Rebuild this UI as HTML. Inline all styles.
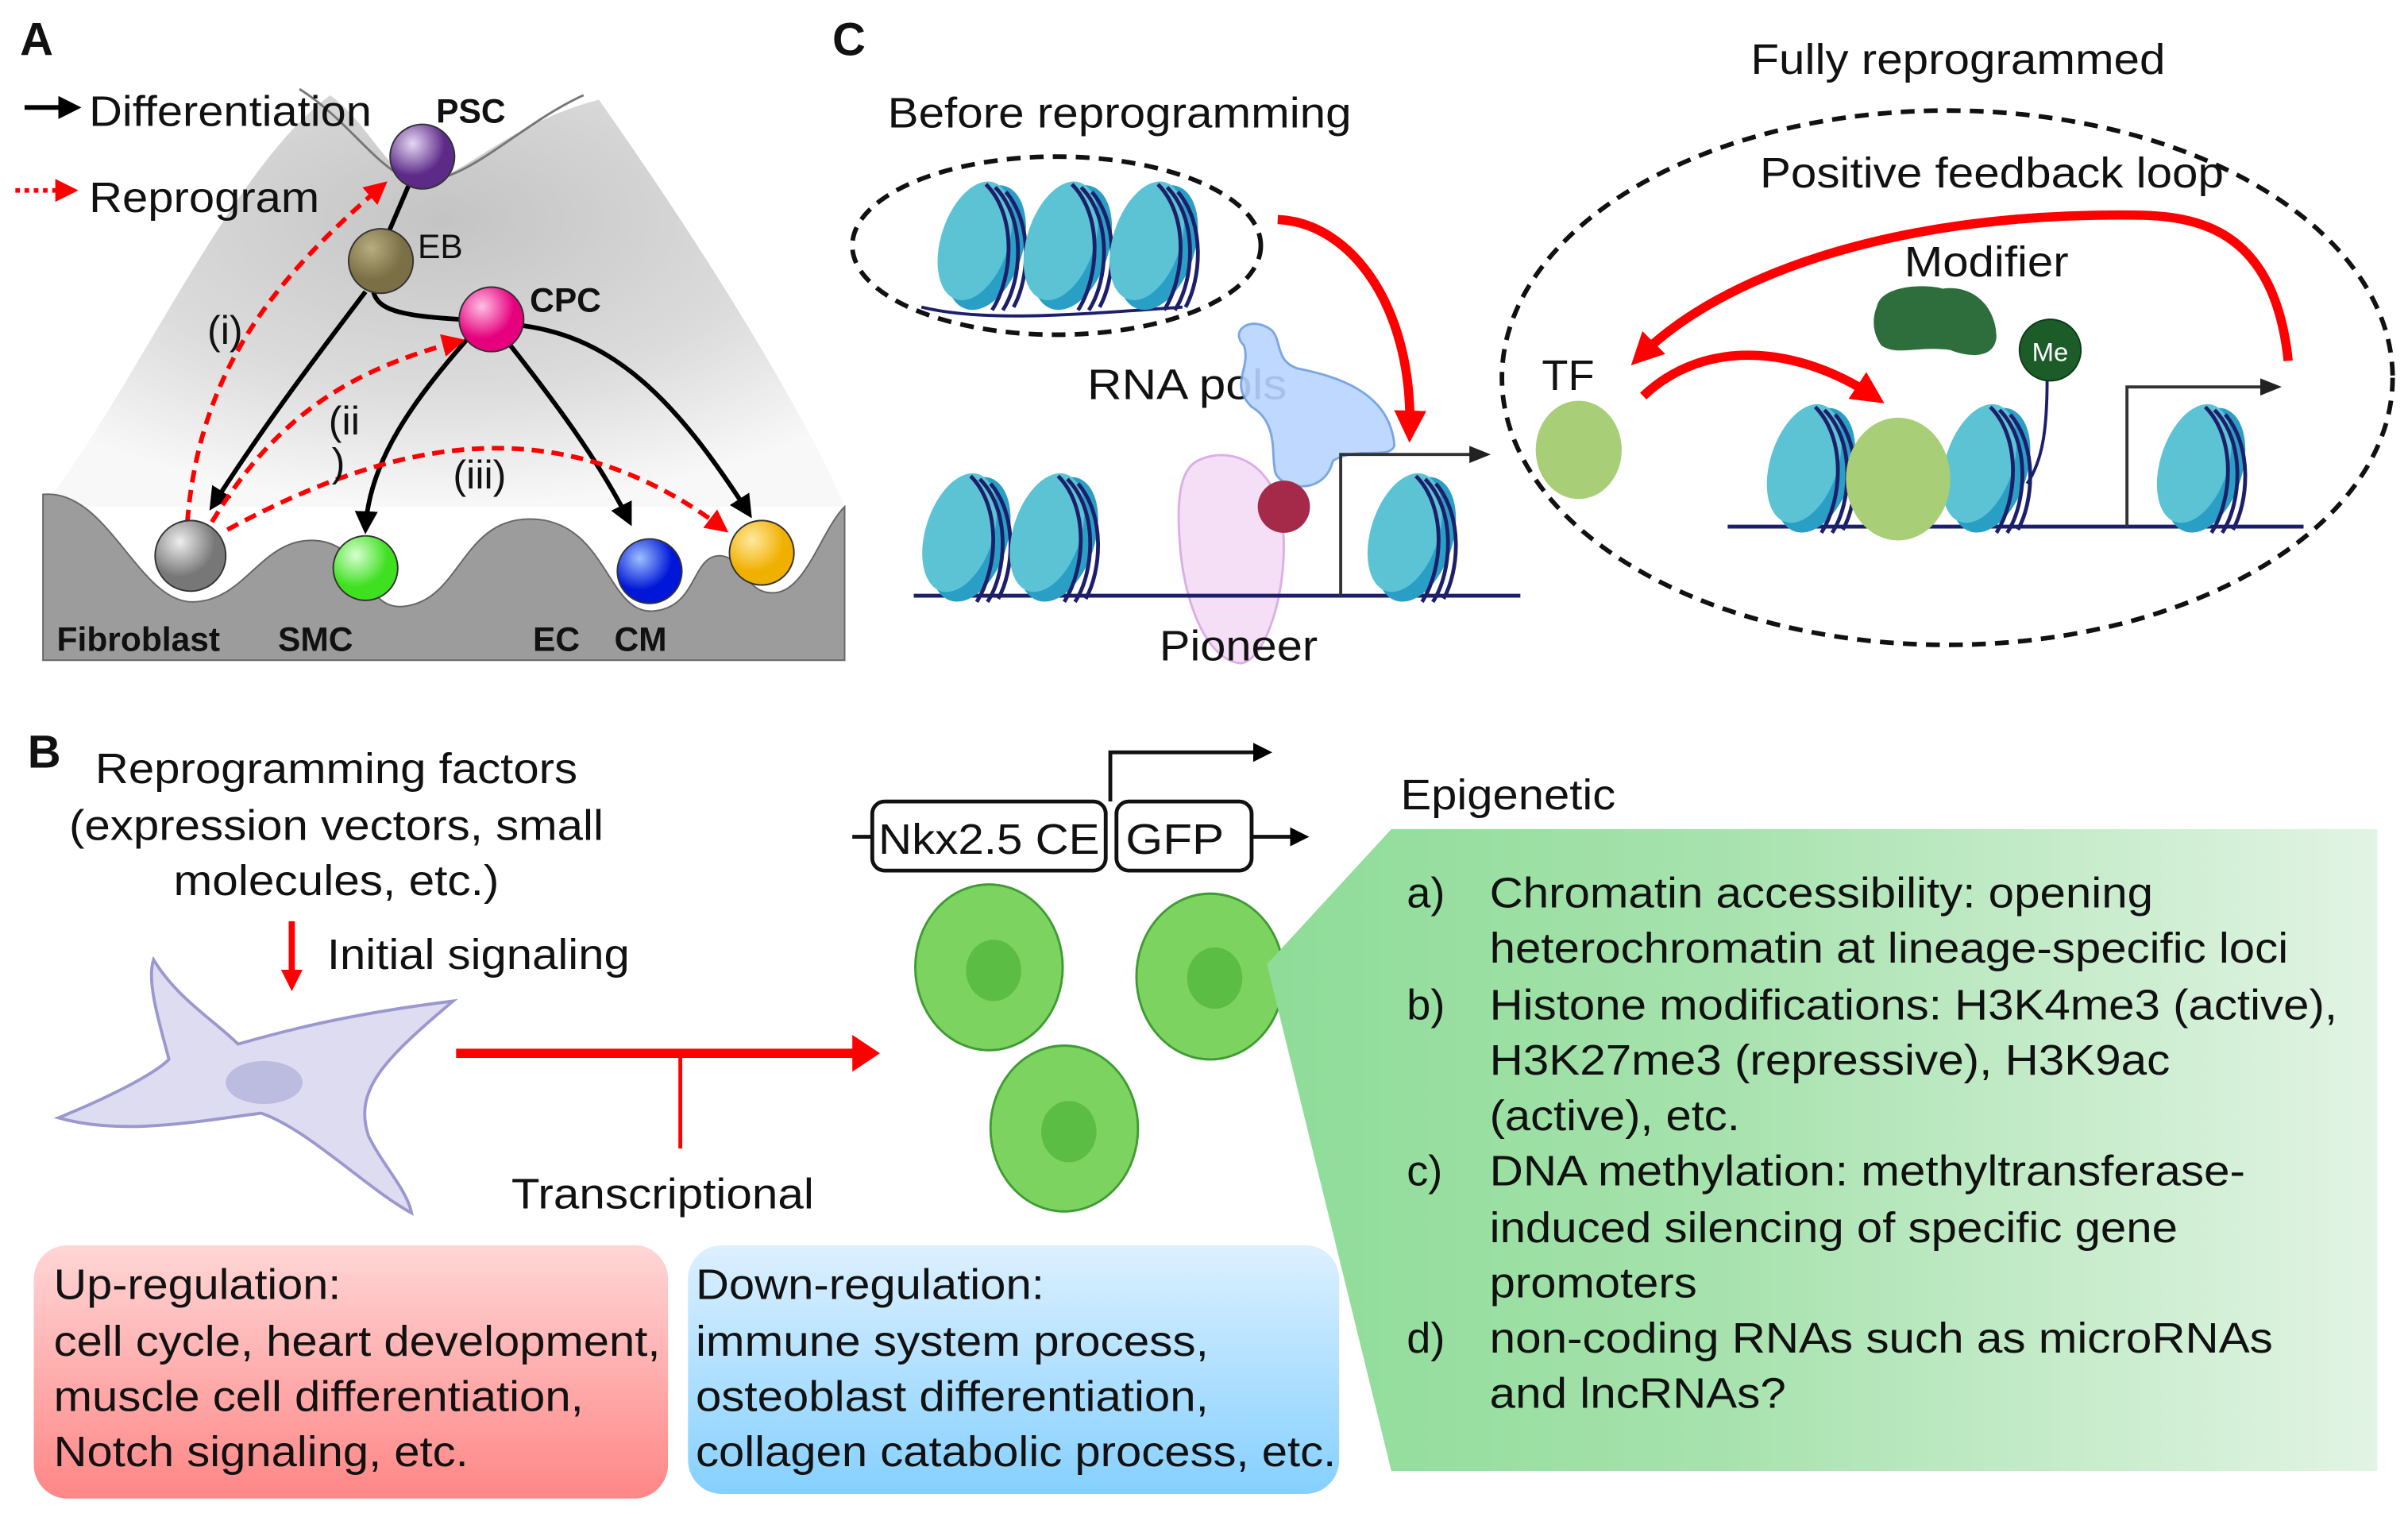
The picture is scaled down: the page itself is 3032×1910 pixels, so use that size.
<!DOCTYPE html>
<html><head><meta charset="utf-8"><style>
html,body{margin:0;padding:0;background:#fff}
svg{display:block}
text{font-family:"Liberation Sans",Arial,sans-serif;fill:#111}
</style></head><body>
<svg width="3032" height="1910" viewBox="0 0 1568 988" preserveAspectRatio="none" xmlns="http://www.w3.org/2000/svg">
<defs>
<radialGradient id="cone" cx="0.5" cy="0.3" r="0.7">
<stop offset="0" stop-color="#c4c4c4"/><stop offset="0.6" stop-color="#dcdcdc"/><stop offset="1" stop-color="#f8f8f8"/></radialGradient>
<linearGradient id="red" x1="0" y1="0" x2="0" y2="1"><stop offset="0" stop-color="#ffd6d6"/><stop offset="1" stop-color="#ff8686"/></linearGradient>
<linearGradient id="blue" x1="0" y1="0" x2="0" y2="1"><stop offset="0" stop-color="#ddf0ff"/><stop offset="1" stop-color="#85d0ff"/></linearGradient>
<linearGradient id="grn" x1="0" y1="0" x2="1" y2="0"><stop offset="0" stop-color="#8edc98"/><stop offset="0.4" stop-color="#a6e2ad"/><stop offset="1" stop-color="#e2f4e4"/></linearGradient>
<radialGradient id="gPSC" cx=".35" cy=".3"><stop offset="0" stop-color="#e6d8f4"/><stop offset="1" stop-color="#5d2a88"/></radialGradient>
<radialGradient id="gEB" cx=".35" cy=".3"><stop offset="0" stop-color="#b8ad80"/><stop offset="1" stop-color="#7a6f45"/></radialGradient>
<radialGradient id="gCPC" cx=".35" cy=".3"><stop offset="0" stop-color="#ffc0e4"/><stop offset="1" stop-color="#e6007e"/></radialGradient>
<radialGradient id="gFib" cx=".35" cy=".3"><stop offset="0" stop-color="#eee"/><stop offset="1" stop-color="#777"/></radialGradient>
<radialGradient id="gSMC" cx=".35" cy=".3"><stop offset="0" stop-color="#d8ffd0"/><stop offset="1" stop-color="#3ee020"/></radialGradient>
<radialGradient id="gEC" cx=".35" cy=".3"><stop offset="0" stop-color="#9cc0ff"/><stop offset="1" stop-color="#0016d8"/></radialGradient>
<radialGradient id="gCM" cx=".35" cy=".3"><stop offset="0" stop-color="#ffe9a0"/><stop offset="1" stop-color="#f0b000"/></radialGradient>
<marker id="ab" viewBox="0 0 10 10" refX="8" refY="5" markerWidth="5" markerHeight="5" orient="auto"><path d="M0,0L10,5L0,10z" fill="#000"/></marker>
<marker id="ar" viewBox="0 0 10 10" refX="8" refY="5" markerWidth="5" markerHeight="5" orient="auto"><path d="M0,0L10,5L0,10z" fill="#f00"/></marker>
<marker id="ar2" viewBox="0 0 10 10" refX="6" refY="5" markerWidth="3.5" markerHeight="3.5" orient="auto"><path d="M0,0L10,5L0,10z" fill="#f00"/></marker>
<marker id="at" viewBox="0 0 10 10" refX="8" refY="5" markerWidth="7" markerHeight="7" orient="auto"><path d="M0,1L10,5L0,9z" fill="#222"/></marker>
<g id="nuc">
<g transform="rotate(18)">
<ellipse cx="4" cy="0" rx="24" ry="42" fill="#2a9fc6"/>
<ellipse cx="-4" cy="-2" rx="22" ry="40" fill="#5cc3d4"/>
</g>
<path d="M4,-40 C24,-20 22,20 8,42 M10,-38 C30,-18 28,22 15,42 M17,-35 C35,-14 32,22 22,40" stroke="#1d1f6a" stroke-width="2.5" fill="none"/>
</g>
</defs>

<!-- Panel A -->
<text x="13" y="36" font-size="30" font-weight="bold">A</text>
<path d="M28,330 C90,250 150,110 215,62 C240,80 255,118 275,118 C300,118 330,80 390,65 C450,150 520,260 550,330 Z" fill="url(#cone)"/>
<path d="M195,58 C230,80 250,118 275,118 C305,118 340,80 380,62" fill="none" stroke="#777" stroke-width="1.5"/>
<path d="M28,322 C70,318 90,392 125,392 C160,392 170,350 205,352 C240,354 235,397 262,395 C300,392 300,338 345,338 C395,338 395,400 425,398 C455,396 450,360 470,362 C485,364 485,388 505,386 C525,384 535,345 550,330 L550,430 L28,430 Z" fill="#9c9c9c" stroke="#666" stroke-width="1"/>
<line x1="16" y1="70" x2="50" y2="70" stroke="#000" stroke-width="3" marker-end="url(#ab)"/>
<text x="58" y="82" font-size="28" textLength="184" lengthAdjust="spacingAndGlyphs">Differentiation</text>
<line x1="10" y1="124" x2="48" y2="124" stroke="#f00" stroke-width="3" stroke-dasharray="3,3" marker-end="url(#ar)"/>
<text x="58" y="138" font-size="28" textLength="150" lengthAdjust="spacingAndGlyphs">Reprogram</text>
<path d="M275,100 L245,170" stroke="#000" stroke-width="3" fill="none"/>
<path d="M243,178 C240,200 250,205 300,208" stroke="#000" stroke-width="3" fill="none"/>
<path d="M238,190 C200,240 170,280 138,330" stroke="#000" stroke-width="3" fill="none" marker-end="url(#ab)"/>
<path d="M305,220 C270,260 240,300 238,345" stroke="#000" stroke-width="3" fill="none" marker-end="url(#ab)"/>
<path d="M330,222 C360,260 390,300 410,340" stroke="#000" stroke-width="3" fill="none" marker-end="url(#ab)"/>
<path d="M340,212 C400,220 440,260 488,335" stroke="#000" stroke-width="3" fill="none" marker-end="url(#ab)"/>
<path d="M122,340 C130,240 180,180 250,120" stroke="#f00" stroke-width="3" stroke-dasharray="8,5" fill="none" marker-end="url(#ar)"/>
<path d="M138,340 C180,270 230,240 300,222" stroke="#f00" stroke-width="3" stroke-dasharray="8,5" fill="none" marker-end="url(#ar)"/>
<path d="M148,345 C250,290 360,260 472,345" stroke="#f00" stroke-width="3" stroke-dasharray="8,5" fill="none" marker-end="url(#ar)"/>
<circle cx="275" cy="102" r="21" fill="url(#gPSC)" stroke="#333"/>
<circle cx="248" cy="170" r="21" fill="url(#gEB)" stroke="#333"/>
<circle cx="320" cy="208" r="21" fill="url(#gCPC)" stroke="#333"/>
<circle cx="124" cy="362" r="23" fill="url(#gFib)" stroke="#333"/>
<circle cx="238" cy="370" r="21" fill="url(#gSMC)" stroke="#333"/>
<circle cx="423" cy="372" r="21" fill="url(#gEC)" stroke="#333"/>
<circle cx="496" cy="360" r="21" fill="url(#gCM)" stroke="#333"/>
<text x="284" y="80" font-size="22" font-weight="bold">PSC</text>
<text x="272" y="168" font-size="22">EB</text>
<text x="345" y="203" font-size="22" font-weight="bold">CPC</text>
<text x="135" y="224" font-size="26">(i)</text>
<text x="214" y="283" font-size="26">(ii</text>
<text x="216" y="310" font-size="26">)</text>
<text x="295" y="318" font-size="26">(iii)</text>
<text x="37" y="424" font-size="22" font-weight="bold">Fibroblast</text>
<text x="181" y="424" font-size="22" font-weight="bold">SMC</text>
<text x="347" y="424" font-size="22" font-weight="bold">EC</text>
<text x="400" y="424" font-size="22" font-weight="bold">CM</text>

<!-- Panel C -->
<text x="542" y="36" font-size="30" font-weight="bold">C</text>
<text x="578" y="83" font-size="28" textLength="302" lengthAdjust="spacingAndGlyphs">Before reprogramming</text>
<ellipse cx="688" cy="160" rx="133" ry="58" fill="none" stroke="#111" stroke-width="3" stroke-dasharray="9,6"/>
<path d="M600,200 C640,210 700,205 770,200" stroke="#1d1f6a" stroke-width="2" fill="none"/>
<use href="#nuc" x="638" y="160"/><use href="#nuc" x="694" y="160"/><use href="#nuc" x="750" y="160"/>
<path d="M832,143 C880,145 920,200 918,280" stroke="#f00" stroke-width="6" fill="none" marker-end="url(#ar2)"/>
<text x="708" y="260" font-size="28" textLength="130" lengthAdjust="spacingAndGlyphs">RNA pols</text>
<path d="M810,225 C800,215 815,205 828,215 C835,222 830,235 845,240 C870,245 905,255 908,290 C905,300 885,290 868,300 C862,325 830,318 830,305 C828,295 832,275 815,265 C800,250 815,240 810,225Z" fill="#b8d4ff" stroke="#6c9de0" stroke-width="1.5" opacity="0.9"/>
<path d="M780,300 C800,290 830,300 835,340 C840,380 825,430 808,432 C785,430 770,390 768,350 C766,320 770,305 780,300Z" fill="#f3dcf7" stroke="#d9a6e3" stroke-width="1.5" opacity="0.9"/>
<circle cx="836" cy="330" r="17" fill="#a52a4a"/>
<path d="M595,388 L990,388" stroke="#1d1f6a" stroke-width="2.5"/>
<use href="#nuc" x="628" y="350"/><use href="#nuc" x="685" y="350"/><use href="#nuc" x="918" y="350"/>
<path d="M873,388 L873,296 L968,296" stroke="#333" stroke-width="2" fill="none" marker-end="url(#at)"/>
<text x="755" y="430" font-size="28" textLength="103" lengthAdjust="spacingAndGlyphs">Pioneer</text>

<text x="1140" y="48" font-size="28" textLength="270" lengthAdjust="spacingAndGlyphs">Fully reprogrammed</text>
<ellipse cx="1268" cy="246" rx="290" ry="174" fill="none" stroke="#111" stroke-width="3" stroke-dasharray="9,6"/>
<text x="1146" y="122" font-size="28" textLength="302" lengthAdjust="spacingAndGlyphs">Positive feedback loop</text>
<text x="1240" y="180" font-size="28" textLength="107" lengthAdjust="spacingAndGlyphs">Modifier</text>
<path d="M1490,235 C1480,140 1420,140 1380,140 C1230,140 1120,180 1068,232" stroke="#f00" stroke-width="6" fill="none" marker-end="url(#ar2)"/>
<path d="M1070,258 C1110,220 1170,225 1220,258" stroke="#f00" stroke-width="6" fill="none" marker-end="url(#ar2)"/>
<path d="M1222,200 C1225,185 1255,185 1265,188 C1285,185 1300,200 1300,220 C1298,235 1280,232 1270,228 C1250,225 1235,232 1225,225 C1218,215 1220,205 1222,200Z" fill="#2e6e3d"/>
<path d="M1333,247 C1333,280 1330,300 1320,315" stroke="#1d1f6a" stroke-width="2" fill="none"/>
<circle cx="1335" cy="228" r="20" fill="#1c5c28" stroke="#0e3a16"/>
<text x="1335" y="235" font-size="17" text-anchor="middle" style="fill:#fff">Me</text>
<text x="1004" y="254" font-size="28">TF</text>
<ellipse cx="1028" cy="293" rx="28" ry="32" fill="#a8cf78"/>
<path d="M1125,343 L1500,343" stroke="#1d1f6a" stroke-width="2.5"/>
<use href="#nuc" x="1178" y="305"/><use href="#nuc" x="1292" y="305"/><use href="#nuc" x="1432" y="305"/>
<ellipse cx="1236" cy="312" rx="34" ry="40" fill="#a8cf78"/>
<path d="M1385,343 L1385,252 L1483,252" stroke="#333" stroke-width="2" fill="none" marker-end="url(#at)"/>

<!-- Panel B -->
<text x="18" y="500" font-size="30" font-weight="bold">B</text>
<text x="62" y="510" font-size="28" textLength="314" lengthAdjust="spacingAndGlyphs">Reprogramming factors</text>
<text x="45" y="547" font-size="28" textLength="348" lengthAdjust="spacingAndGlyphs">(expression vectors, small</text>
<text x="113" y="583" font-size="28" textLength="212" lengthAdjust="spacingAndGlyphs">molecules, etc.)</text>
<line x1="190" y1="600" x2="190" y2="640" stroke="#f00" stroke-width="4" marker-end="url(#ar2)"/>
<text x="213" y="631" font-size="28" textLength="197" lengthAdjust="spacingAndGlyphs">Initial signaling</text>
<path d="M100,625 C115,650 140,665 155,680 C190,670 230,660 295,652 C250,690 230,710 240,740 C250,760 265,775 268,790 C240,775 200,735 170,725 C130,730 80,740 38,728 C70,715 100,700 110,690 C105,670 95,640 100,625Z" fill="#dddcf0" stroke="#9b98cf" stroke-width="2"/>
<ellipse cx="172" cy="705" rx="25" ry="14" fill="#bcbbe0"/>
<line x1="297" y1="686" x2="560" y2="686" stroke="#f00" stroke-width="6"/>
<path d="M555,674 L573,686 L555,698Z" fill="#f00"/>
<line x1="443" y1="686" x2="443" y2="748" stroke="#f00" stroke-width="2.5"/>
<text x="333" y="787" font-size="28" textLength="197" lengthAdjust="spacingAndGlyphs">Transcriptional</text>
<line x1="555" y1="545" x2="568" y2="545" stroke="#111" stroke-width="2.5"/>
<rect x="568" y="522" width="152" height="45" rx="8" fill="#fff" stroke="#111" stroke-width="2.5"/>
<rect x="727" y="522" width="88" height="45" rx="8" fill="#fff" stroke="#111" stroke-width="2.5"/>
<text x="572" y="556" font-size="28" textLength="144" lengthAdjust="spacingAndGlyphs">Nkx2.5 CE</text>
<text x="733" y="556" font-size="28" textLength="64" lengthAdjust="spacingAndGlyphs">GFP</text>
<line x1="815" y1="545" x2="850" y2="545" stroke="#111" stroke-width="2.5" marker-end="url(#ab)"/>
<path d="M723,522 L723,490 L826,490" stroke="#111" stroke-width="2.5" fill="none" marker-end="url(#ab)"/>
<ellipse cx="644" cy="630" rx="48" ry="54" fill="#7dd35f" stroke="#3f9c34" stroke-width="1.5"/>
<ellipse cx="647" cy="632" rx="18" ry="20" fill="#5cbd45"/>
<ellipse cx="788" cy="636" rx="48" ry="54" fill="#7dd35f" stroke="#3f9c34" stroke-width="1.5"/>
<ellipse cx="791" cy="637" rx="18" ry="20" fill="#5cbd45"/>
<ellipse cx="693" cy="735" rx="48" ry="54" fill="#7dd35f" stroke="#3f9c34" stroke-width="1.5"/>
<ellipse cx="696" cy="737" rx="18" ry="20" fill="#5cbd45"/>
<text x="912" y="527" font-size="28" textLength="140" lengthAdjust="spacingAndGlyphs">Epigenetic</text>
<path d="M906,540 L1548,540 L1548,958 L906,958 L825,628 Z" fill="url(#grn)"/>
<g font-size="28" lengthAdjust="spacingAndGlyphs">
<text x="916" y="591">a)</text><text x="970" y="591" textLength="432" lengthAdjust="spacingAndGlyphs">Chromatin accessibility: opening</text>
<text x="970" y="627" textLength="520" lengthAdjust="spacingAndGlyphs">heterochromatin at lineage-specific loci</text>
<text x="916" y="664">b)</text><text x="970" y="664" textLength="552" lengthAdjust="spacingAndGlyphs">Histone modifications: H3K4me3 (active),</text>
<text x="970" y="700" textLength="443" lengthAdjust="spacingAndGlyphs">H3K27me3 (repressive), H3K9ac</text>
<text x="970" y="736" textLength="163" lengthAdjust="spacingAndGlyphs">(active), etc.</text>
<text x="916" y="772">c)</text><text x="970" y="772" textLength="492" lengthAdjust="spacingAndGlyphs">DNA methylation: methyltransferase-</text>
<text x="970" y="809" textLength="448" lengthAdjust="spacingAndGlyphs">induced silencing of specific gene</text>
<text x="970" y="845" textLength="135" lengthAdjust="spacingAndGlyphs">promoters</text>
<text x="916" y="881">d)</text><text x="970" y="881" textLength="510" lengthAdjust="spacingAndGlyphs">non-coding RNAs such as microRNAs</text>
<text x="970" y="917" textLength="193" lengthAdjust="spacingAndGlyphs">and lncRNAs?</text>
</g>
<rect x="22" y="811" width="413" height="165" rx="22" fill="url(#red)"/>
<rect x="448" y="811" width="424" height="162" rx="22" fill="url(#blue)"/>
<g font-size="28">
<text x="35" y="846" textLength="187" lengthAdjust="spacingAndGlyphs">Up-regulation:</text>
<text x="35" y="883" textLength="395" lengthAdjust="spacingAndGlyphs">cell cycle, heart development,</text>
<text x="35" y="919" textLength="345" lengthAdjust="spacingAndGlyphs">muscle cell differentiation,</text>
<text x="35" y="955" textLength="270" lengthAdjust="spacingAndGlyphs">Notch signaling, etc.</text>
<text x="453" y="846" textLength="227" lengthAdjust="spacingAndGlyphs">Down-regulation:</text>
<text x="453" y="883" textLength="334" lengthAdjust="spacingAndGlyphs">immune system process,</text>
<text x="453" y="919" textLength="334" lengthAdjust="spacingAndGlyphs">osteoblast differentiation,</text>
<text x="453" y="955" textLength="417" lengthAdjust="spacingAndGlyphs">collagen catabolic process, etc.</text>
</g>
</svg>
</body></html>
